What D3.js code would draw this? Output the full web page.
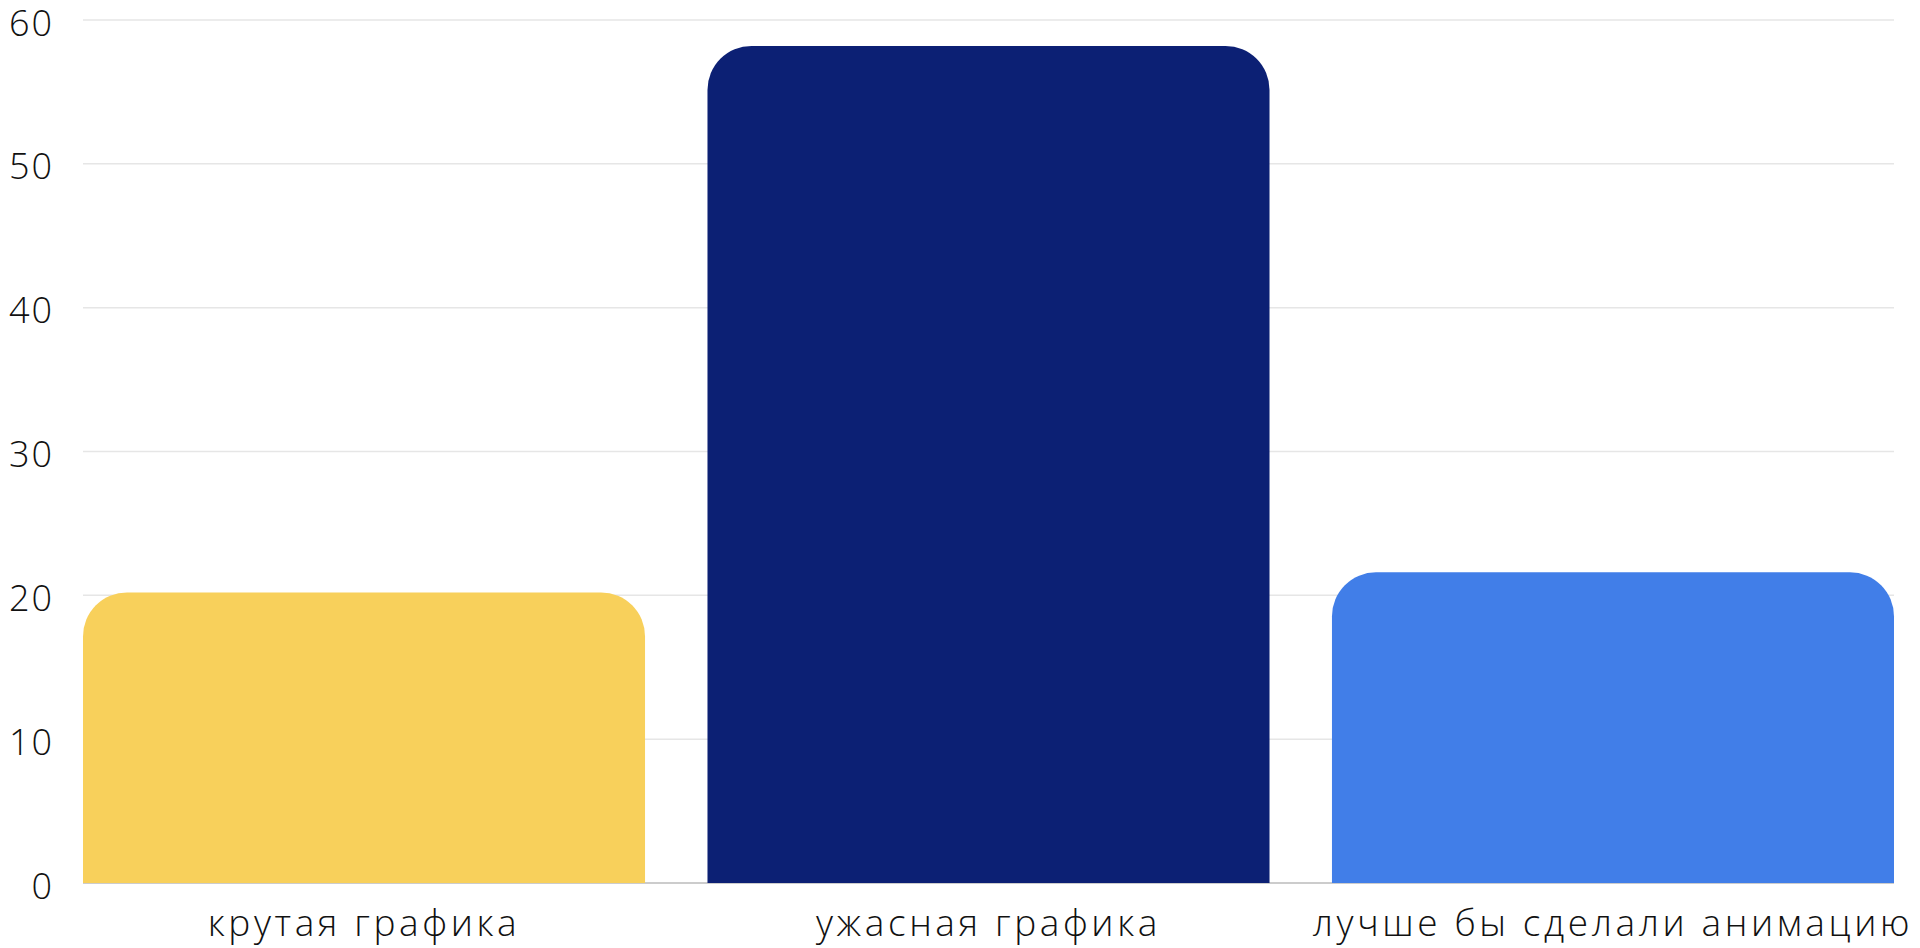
<!DOCTYPE html>
<html>
<head>
<meta charset="utf-8">
<script src="https://cdn.jsdelivr.net/npm/d3@7"></script>
<style>
  body { margin: 0; background: #fff; }
  svg text { font-family: "Open Sans", sans-serif; font-weight: 300; fill: #111; }
</style>
</head>
<body>
<svg width="1920" height="948"></svg>
<script>
var categories = ["крутая графика", "ужасная графика", "лучше бы сделали анимацию"]
var values = [20.2, 58.2, 21.6]
var colors = ["#F8D05B", "#0C2074", "#417EE8"]
var yTicks = [0, 10, 20, 30, 40, 50, 60]

var plot = {left: 83, right: 1894, top: 20, bottom: 883}
var radius = 44

var svg = d3.select("svg")

var xscale = d3.scaleBand()
    .domain(categories)
    .range([plot.left, plot.right])
    .paddingInner(0.1)
    .paddingOuter(0)

var yscale = d3.scaleLinear()
    .domain([0, 60])
    .range([plot.bottom, plot.top])

// gridlines
svg.append("g")
    .selectAll("line")
    .data(yTicks.filter(function(t) {return t > 0}))
    .enter()
    .append("line")
    .attr("x1", plot.left)
    .attr("x2", plot.right)
    .attr("y1", function(t) {return yscale(t)})
    .attr("y2", function(t) {return yscale(t)})
    .attr("stroke", "#e6e6e6")
    .attr("stroke-width", 1.5)

// baseline
svg.append("line")
    .attr("x1", plot.left)
    .attr("x2", plot.right)
    .attr("y1", yscale(0))
    .attr("y2", yscale(0))
    .attr("stroke", "#cccccc")
    .attr("stroke-width", 2)

// y labels
svg.append("g")
    .selectAll("text")
    .data(yTicks)
    .enter()
    .append("text")
    .attr("x", 54)
    .attr("y", function(t) {return yscale(t) + 2})
    .attr("text-anchor", "end")
    .attr("dominant-baseline", "central")
    .attr("font-size", 36)
    .attr("letter-spacing", 2)
    .text(function(t) {return t})

var barPath = function(d, i)
{
    var x0 = xscale(categories[i])
    var x1 = x0 + xscale.bandwidth()
    var y0 = yscale(0)
    var y1 = yscale(d)
    var r = Math.min(radius, y0 - y1)
    return "M" + x0 + "," + y0 +
        "V" + (y1 + r) +
        "A" + r + "," + r + " 0 0 1 " + (x0 + r) + "," + y1 +
        "H" + (x1 - r) +
        "A" + r + "," + r + " 0 0 1 " + x1 + "," + (y1 + r) +
        "V" + y0 + "Z"
}

svg.append("g")
    .selectAll("path")
    .data(values)
    .enter()
    .append("path")
    .attr("d", barPath)
    .attr("fill", function(d, i) {return colors[i]})

// x labels
svg.append("g")
    .selectAll("text")
    .data(categories)
    .enter()
    .append("text")
    .attr("x", function(c) {return xscale(c) + xscale.bandwidth() / 2})
    .attr("y", 921)
    .attr("text-anchor", "middle")
    .attr("dominant-baseline", "central")
    .attr("font-size", 37)
    .attr("letter-spacing", 3.6)
    .text(function(c) {return c})
</script>
</body>
</html>
